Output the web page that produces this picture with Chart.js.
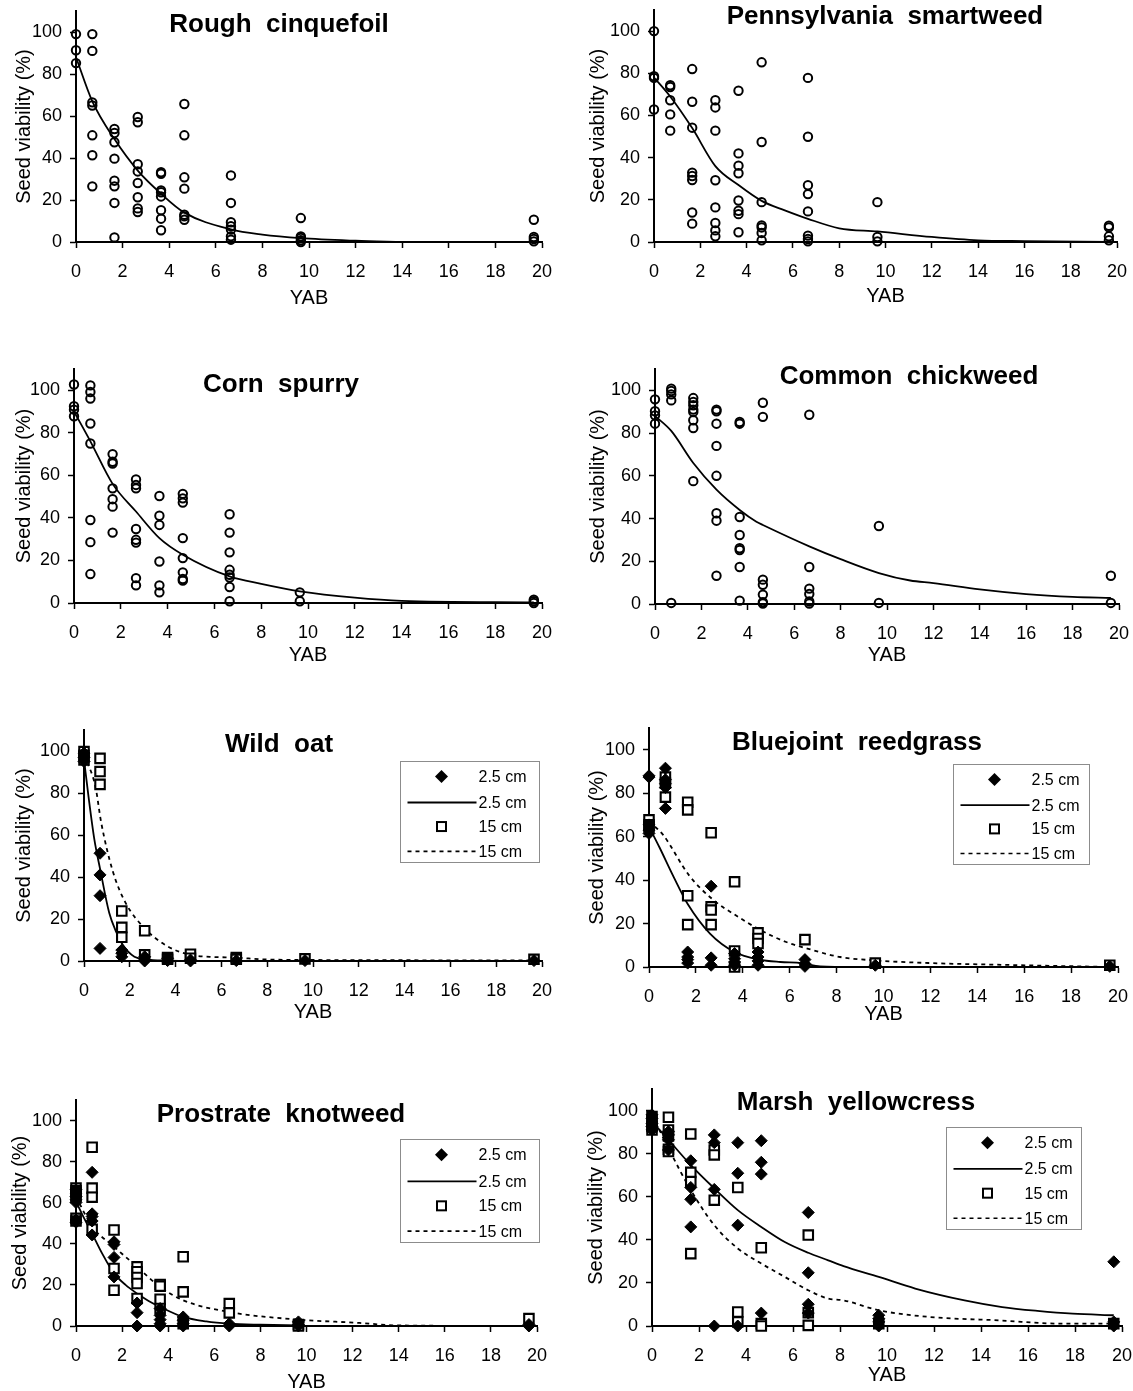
<!DOCTYPE html>
<html>
<head>
<meta charset="utf-8">
<title>Seed viability vs YAB</title>
<script src="https://cdn.jsdelivr.net/npm/chart.js@4.4.1/dist/chart.umd.min.js"></script>
<style>
  html, body { margin: 0; padding: 0; background: #fff; overflow: hidden; }
  body { width: 1133px; height: 1391px; position: relative; }
  canvas { position: absolute; }
</style>
</head>
<body>
<script>
// years after burial at which seeds were dug up
const yab = [0, 0.7, 1.65, 2.65, 3.65, 4.65, 6.65, 9.65, 19.65];
const xTicks = [0, 2, 4, 6, 8, 10, 12, 14, 16, 18, 20];
const yTicks = [0, 20, 40, 60, 80, 100];
const depthLabels = ['2.5 cm', '2.5 cm', '15 cm', '15 cm'];

// Rough cinquefoil - one value list per YAB
const roughObs = [
  [99, 91.3, 85.2],
  [99, 91, 66.5, 65, 50.8, 41.3, 26.5],
  [53.8, 51.9, 47.5, 39.7, 29.2, 26.5, 18.6, 2.2],
  [59.5, 57, 37, 33.6, 28.1, 21.3, 16, 14.3],
  [33.2, 32.5, 24.6, 23.7, 21.7, 15.1, 11.1, 5.6],
  [65.7, 50.8, 30.8, 25.4, 13, 12.2, 10.6],
  [31.7, 18.6, 9.4, 7.5, 5.9, 2.7, 1.1],
  [11.4, 2.7, 1.9, 0.8, 0],
  [10.6, 2.4, 1.4, 0.3]
];
const roughFitX = [0, 0.7, 1.65, 2.65, 3.65, 4.65, 6.65, 8, 9.65, 12, 14];
const roughFitY = [88, 67, 49, 34, 23, 14, 6, 3.5, 1.8, 0.6, 0];

// Pennsylvania smartweed
const smartObs = [
  [100, 78.6, 77.8, 62.8],
  [74.3, 73.5, 67.2, 60.5, 52.8],
  [82, 66.5, 54.2, 32.9, 31.3, 29.4, 14, 8.7],
  [67.2, 63.8, 52.8, 29.3, 16.4, 9, 5.5, 2.7],
  [71.7, 42, 36.2, 32.6, 19.7, 14.8, 13.2, 4.6],
  [85.2, 47.4, 18.9, 7.9, 6.9, 4.3, 0.8],
  [77.8, 49.9, 26.9, 22.7, 14.5, 3, 1.4, 0.3],
  [18.9, 2.4, 0.3],
  [7.7, 6.9, 2.7, 0.8]
];
const smartFitX = [0, 0.7, 1.65, 2.65, 3.65, 4.65, 5.65, 6.65, 8, 9.65, 12, 14, 16, 19.65];
const smartFitY = [78, 69, 54, 36, 27, 19.5, 15, 11, 6.5, 5, 2.4, 0.8, 0.4, 0];

// Corn spurry
const cornObs = [
  [102.7, 92.5, 90.9, 87.8],
  [102.3, 99.2, 96.1, 84.4, 75, 39, 28.6, 13.6],
  [70, 66.4, 65.6, 53.9, 48.8, 45.3, 33.1],
  [58.1, 55.5, 53.9, 34.8, 29.7, 28.4, 11.7, 8.3],
  [50.3, 41, 36.7, 19.5, 8.3, 5],
  [51.3, 49.2, 47.2, 30.5, 21.1, 14.4, 11.3, 10.5],
  [41.7, 33.1, 23.8, 15.6, 13.3, 12, 7.5, 0.8],
  [5, 0.8],
  [1.6, 0.8, 0]
];
const cornFitX = [0, 0.7, 1.65, 2.65, 3.65, 4.65, 6.65, 8, 9.65, 12, 14, 19.65];
const cornFitY = [90, 76, 56, 43, 30.5, 22.7, 12.5, 9, 5.5, 2.5, 1, 0.3];

// Common chickweed
const chickObs = [
  [95.8, 90.2, 88.3, 84.4],
  [100.8, 99.7, 98.1, 95.3, 0.5],
  [96.4, 94.6, 93, 91, 89.9, 86, 82.4, 57.5],
  [91, 90.2, 84.4, 74, 60, 42.5, 39, 13.2],
  [85.2, 84.4, 40.7, 32.3, 26.1, 25.3, 17.3, 1.6],
  [94.2, 87.6, 11.4, 9, 4.4, 0.9, 0.2],
  [88.6, 17.3, 7.2, 4.7, 1.2, 0.2],
  [36.5, 0.5],
  [13.2, 0.5]
];
const chickFitX = [0, 0.7, 1.65, 2.65, 3.65, 4.37, 4.65, 6.65, 8, 9.65, 11, 12, 14, 16, 18, 19.65];
const chickFitY = [88, 81, 66, 53.5, 44, 38.5, 37, 27, 21, 14.5, 11, 9.8, 6.8, 4.6, 3.3, 2.8];

// Wild oat
const oatShallow = [
  [99, 97, 95],
  [51.3, 41, 31.1, 6],
  [5.2, 3.7, 2],
  [2, 0.5, 0],
  [1.3, 0.2],
  [0.5, 0],
  [0.2],
  [0.2],
  [0.2]
];
const oatDeep = [
  [99.7, 98, 95.7],
  [96.5, 90.2, 84.1],
  [23.8, 16, 11.3],
  [14.4, 2.9],
  [1.6, 0.8],
  [3.2, 1.3],
  [1.6, 0.8],
  [1],
  [0.8]
];
const oatShallowFitX = [0, 0.2, 0.45, 0.7, 1.1, 1.4, 1.7, 2.2, 2.7, 3.65, 4.65, 6.65, 9.65, 19.65];
const oatShallowFitY = [96, 78, 58, 44, 23, 14, 7.6, 2, 0.8, 0.2, 0, 0, 0, 0];
const oatDeepFitX = [0, 0.5, 0.75, 1.25, 1.8, 2.7, 3.65, 4.6, 5.5, 6.65, 7.8, 9.65, 19.65];
const oatDeepFitY = [98, 83, 66, 43, 28, 15, 7, 3, 2, 1.6, 0.8, 0.5, 0.3];

// Bluejoint reedgrass
const blueShallow = [
  [88, 87.4, 65.4, 63, 61.5],
  [91.5, 86.2, 84.3, 82.6, 73],
  [6.9, 4.6, 3.4, 1.8],
  [37.2, 4.2, 0.8],
  [6.2, 3.8, 2.3, 0.8],
  [6.9, 4.6, 2.8, 0.8],
  [3.4, 1.5, 0.3],
  [0.8],
  [0.3]
];
const blueDeep = [
  [67.7, 65.4, 64.6],
  [87.4, 84.6, 78.2],
  [75.8, 72.3, 32.8, 19.5],
  [61.8, 27.7, 26.2, 19.5],
  [39.2, 7.4, 0],
  [15.7, 13.1, 10.8],
  [12.6],
  [1.8],
  [0.8]
];
const blueShallowFitX = [0, 0.45, 1.05, 1.65, 2.6, 3.65, 4.7, 5.6, 6.5, 7.3, 8.8, 9.65];
const blueShallowFitY = [64.6, 55, 41.5, 29, 15.4, 6.9, 3.4, 2.3, 1.8, 0.3, 0, 0];
const blueDeepFitX = [0, 0.6, 1.7, 2.75, 3.7, 4.75, 5.85, 6.75, 8.15, 9.7, 12, 15.1, 19.65];
const blueDeepFitY = [67, 60.8, 42.3, 30.8, 23.8, 17, 11.5, 8.5, 4.6, 3, 1.8, 1, 0];

// Prostrate knotweed
const knotShallow = [
  [66.3, 64.7, 63, 61.4, 60.1, 51.6, 50.5],
  [74.8, 54.6, 53.3, 51.1, 44.3],
  [41, 39.7, 33.4, 23.9],
  [11.2, 6.5, 0],
  [8.5, 5.2, 3.1, 1.1, 0],
  [4.4, 2.8, 1.1, 0],
  [1.1, 0],
  [2, 0.7, 0],
  [0.7, 0]
];
const knotDeep = [
  [67.1, 65.8, 64.7, 63, 52.4, 51.1],
  [87, 67.1, 62.7, 47.1],
  [46.7, 28, 17.4],
  [28.8, 26.4, 23.6, 20.7, 13.4],
  [20.2, 19.4, 13, 8.5],
  [33.7, 16.6, 1.1],
  [10.9, 6.4],
  [0.7, 0],
  [3.6]
];
const knotShallowFitX = [0, 0.35, 0.7, 1.15, 1.65, 2.15, 2.65, 3.15, 3.65, 4.65, 5.65, 6.65, 8, 9.65];
const knotShallowFitY = [60.6, 52.5, 45, 35, 25.6, 20, 15.8, 12.2, 9.3, 4.4, 2.2, 1.1, 0.6, 0.3];
const knotDeepFitX = [0, 0.7, 1.65, 2.65, 3.65, 4.65, 6.65, 9.65, 12.3, 13.9, 19.65];
const knotDeepFitY = [63, 48.4, 38.6, 28.8, 19, 12.5, 6.8, 3.1, 1.5, 0.3, 0];

// Marsh yellowcress
const marshShallow = [
  [98, 96.4, 94.1, 92.6, 91],
  [90.2, 88.7, 86.4, 81.7],
  [76.7, 64.3, 58.8, 46],
  [88.7, 85.1, 63.4, 0],
  [85.1, 70.9, 46.8, 0],
  [86, 76, 70.5, 6],
  [52.7, 24.7, 10.1, 6],
  [5, 3.4, 1.9, 0],
  [29.8, 1.9, 0]
];
const marshDeep = [
  [97.2, 94.9, 92.6, 91],
  [96.9, 91, 88.2, 82, 81],
  [89.1, 71.3, 67, 33.6],
  [81.7, 79.4, 58.4],
  [64.3, 6.5, 1.9],
  [36.3, 1.1, 0],
  [42.2, 6.2, 0.3],
  [1.1],
  [1.1]
];
const marshShallowFitX = [0, 0.7, 1.65, 2.65, 3.65, 4.65, 5.65, 6.65, 7.5, 8.15, 9.65, 11.2, 13.3, 14.9, 16.4, 17.9, 19.65];
const marshShallowFitY = [95, 86.4, 74.7, 63.9, 53.8, 46, 39, 34, 30.5, 27.8, 22.8, 17.4, 11.9, 8.8, 7, 5.7, 5];
const marshDeepFitX = [0, 0.7, 1.65, 2.65, 3.65, 4.65, 5.65, 6.65, 7.5, 8.15, 9.65, 11.8, 14.8, 17.4, 19.65];
const marshDeepFitY = [98, 82.5, 63.1, 46.8, 36, 29, 22.8, 16.6, 12.7, 11.9, 7.3, 4.2, 2.6, 1.1, 1.1];

const FONT = '"Liberation Sans", Arial, Helvetica, sans-serif';

// layout: area = [left, top, right, bottom] of plot in page px, title = centre of heading
const panels = [
  { col: 0, area: [76, 11, 542, 242], title: 'Rough  cinquefoil', titleAt: [279, 25], yTitleX: 24, xTitleDy: 56,
    circles: roughObs, fits: [[roughFitX, roughFitY]] },
  { col: 1, area: [654, 10, 1117, 242], title: 'Pennsylvania  smartweed', titleAt: [885, 17], yTitleX: 598, xTitleDy: 54,
    circles: smartObs, fits: [[smartFitX, smartFitY]] },
  { col: 0, area: [74, 369, 542, 603], title: 'Corn  spurry', titleAt: [281, 385], yTitleX: 24, xTitleDy: 52,
    circles: cornObs, fits: [[cornFitX, cornFitY]] },
  { col: 1, area: [655, 369, 1119, 604], title: 'Common  chickweed', titleAt: [909, 377], yTitleX: 598, xTitleDy: 51,
    circles: chickObs, fits: [[chickFitX, chickFitY]] },
  { col: 0, area: [84, 730, 542, 961], title: 'Wild  oat', titleAt: [279, 745], yTitleX: 24, xTitleDy: 51,
    shallow: oatShallow, deep: oatDeep, fits: [[oatShallowFitX, oatShallowFitY], [oatDeepFitX, oatDeepFitY]],
    legendBox: [400, 761, 139, 101] },
  { col: 1, area: [649, 728, 1118, 967], title: 'Bluejoint  reedgrass', titleAt: [857, 743], yTitleX: 597, xTitleDy: 47,
    shallow: blueShallow, deep: blueDeep, fits: [[blueShallowFitX, blueShallowFitY], [blueDeepFitX, blueDeepFitY]],
    legendBox: [953, 764, 136, 100] },
  { col: 0, area: [76, 1100, 537, 1326], title: 'Prostrate  knotweed', titleAt: [281, 1115], yTitleX: 20, xTitleDy: 56,
    shallow: knotShallow, deep: knotDeep, fits: [[knotShallowFitX, knotShallowFitY], [knotDeepFitX, knotDeepFitY]],
    legendBox: [400, 1139, 139, 103] },
  { col: 1, area: [652, 1089, 1122, 1326], title: 'Marsh  yellowcress', titleAt: [856, 1103], yTitleX: 596, xTitleDy: 49,
    shallow: marshShallow, deep: marshDeep, fits: [[marshShallowFitX, marshShallowFitY], [marshDeepFitX, marshDeepFitY]],
    legendBox: [946, 1127, 135, 102] }
];

function toPoints(groups) {
  return groups.flatMap((vals, i) => vals.map(v => ({ x: yab[i], y: v })));
}
function toLine(xs, ys) {
  return xs.map((x, i) => ({ x: x, y: ys[i] }));
}

function drawDiamond(ctx, x, y, r) {
  ctx.beginPath();
  ctx.moveTo(x, y - r); ctx.lineTo(x + r, y); ctx.lineTo(x, y + r); ctx.lineTo(x - r, y);
  ctx.closePath();
  ctx.fillStyle = '#000';
  ctx.fill();
}

// headings, axis titles and the boxed legend
const decor = {
  id: 'decor',
  afterDraw(chart, args, o) {
    const ctx = chart.ctx;
    const a = chart.chartArea;
    ctx.save();
    ctx.fillStyle = '#000';
    ctx.textAlign = 'center';
    ctx.textBaseline = 'middle';
    ctx.font = 'bold 26px ' + FONT;
    ctx.fillText(o.title, o.titleAt[0] - o.ox, o.titleAt[1] - o.oy);

    ctx.font = '20px ' + FONT;
    ctx.fillText('YAB', (a.left + a.right) / 2, a.bottom + o.xTitleDy);
    ctx.save();
    ctx.translate(o.yTitleX - o.ox, (a.top + a.bottom) / 2);
    ctx.rotate(-Math.PI / 2);
    ctx.fillText('Seed viability (%)', 0, 0);
    ctx.restore();

    if (o.legendBox) {
      const bx = Math.round(o.legendBox[0] - o.ox) + 0.5;
      const by = Math.round(o.legendBox[1] - o.oy) + 0.5;
      const bw = o.legendBox[2], bh = o.legendBox[3];
      ctx.fillStyle = '#fff';
      ctx.fillRect(bx, by, bw, bh);
      ctx.strokeStyle = '#8c8c8c';
      ctx.lineWidth = 1;
      ctx.strokeRect(bx, by, bw, bh);
      const rows = [0.149, 0.406, 0.644, 0.89].map(f => by + f * bh);
      const mx = bx + 41, l0 = bx + 7, l1 = bx + 76, tx = bx + 78;
      drawDiamond(ctx, mx, rows[0], 6.5);
      ctx.strokeStyle = '#000';
      ctx.lineWidth = 1.8;
      ctx.beginPath(); ctx.moveTo(l0, rows[1]); ctx.lineTo(l1, rows[1]); ctx.stroke();
      ctx.fillStyle = '#fff';
      ctx.lineWidth = 2;
      ctx.fillRect(mx - 4.5, rows[2] - 4.5, 9, 9);
      ctx.strokeRect(mx - 4.5, rows[2] - 4.5, 9, 9);
      ctx.setLineDash([4, 4]);
      ctx.lineWidth = 1.6;
      ctx.beginPath(); ctx.moveTo(l0, rows[3]); ctx.lineTo(l1, rows[3]); ctx.stroke();
      ctx.setLineDash([]);
      ctx.fillStyle = '#000';
      ctx.textAlign = 'left';
      ctx.font = '16px ' + FONT;
      depthLabels.forEach((t, i) => ctx.fillText(t, tx, rows[i] + 1));
    }
    ctx.restore();
  }
};

const padTop = 20, padRight = 25, xH = 75;

panels.forEach(p => {
  const [L, T, R, B] = p.area;
  const ox = p.col === 0 ? 0 : 570;
  const oy = T - padTop;
  const cv = document.createElement('canvas');
  cv.width = R - ox + padRight;
  cv.height = B - T + padTop + xH;
  cv.style.left = ox + 'px';
  cv.style.top = oy + 'px';
  document.body.appendChild(cv);

  const datasets = [];
  if (p.circles) {
    datasets.push({ data: toPoints(p.circles), pointStyle: 'circle', pointRadius: 4.2,
      borderColor: '#000', backgroundColor: 'rgba(0,0,0,0)', pointBorderWidth: 2, clip: false });
  } else {
    datasets.push({ data: toPoints(p.shallow), pointStyle: 'rectRot', pointRadius: 6,
      borderColor: '#000', backgroundColor: '#000', pointBorderWidth: 1, clip: false });
    datasets.push({ data: toPoints(p.deep), pointStyle: 'rect', pointRadius: 6.7,
      borderColor: '#000', backgroundColor: '#fff', pointBorderWidth: 2.1, clip: false });
  }
  p.fits.forEach((f, i) => {
    datasets.push({ data: toLine(f[0], f[1]), showLine: true, pointRadius: 0,
      borderColor: '#000', borderWidth: 1.8, borderDash: i === 1 ? [4, 4] : [],
      cubicInterpolationMode: 'monotone', fill: false });
  });

  const gridOpts = { drawOnChartArea: false, drawTicks: true, tickLength: 6, tickColor: '#000', tickWidth: 1.5 };
  const tickFont = { family: FONT, size: 18 };

  new Chart(cv, {
    type: 'scatter',
    data: { datasets: datasets },
    options: {
      responsive: false,
      animation: false,
      events: [],
      layout: { padding: { top: padTop, right: padRight, left: 0, bottom: 0 } },
      plugins: {
        legend: { display: false },
        tooltip: { enabled: false },
        decor: { title: p.title, titleAt: p.titleAt, yTitleX: p.yTitleX, xTitleDy: p.xTitleDy,
          legendBox: p.legendBox, ox: ox, oy: oy }
      },
      scales: {
        x: {
          type: 'linear', min: 0, max: 20,
          afterBuildTicks: s => { s.ticks = xTicks.map(v => ({ value: v })); },
          afterFit: s => { s.height = xH; },
          ticks: { color: '#000', font: tickFont, padding: 13, maxRotation: 0, autoSkip: false },
          grid: gridOpts,
          border: { color: '#000', width: 2 }
        },
        y: {
          type: 'linear', min: 0, max: 110,
          afterBuildTicks: s => { s.ticks = yTicks.map(v => ({ value: v })); },
          afterFit: s => { s.width = L - ox; },
          ticks: { color: '#000', font: tickFont, padding: 8 },
          grid: gridOpts,
          border: { color: '#000', width: 2 }
        }
      }
    },
    plugins: [decor]
  });
});
</script>
</body>
</html>
